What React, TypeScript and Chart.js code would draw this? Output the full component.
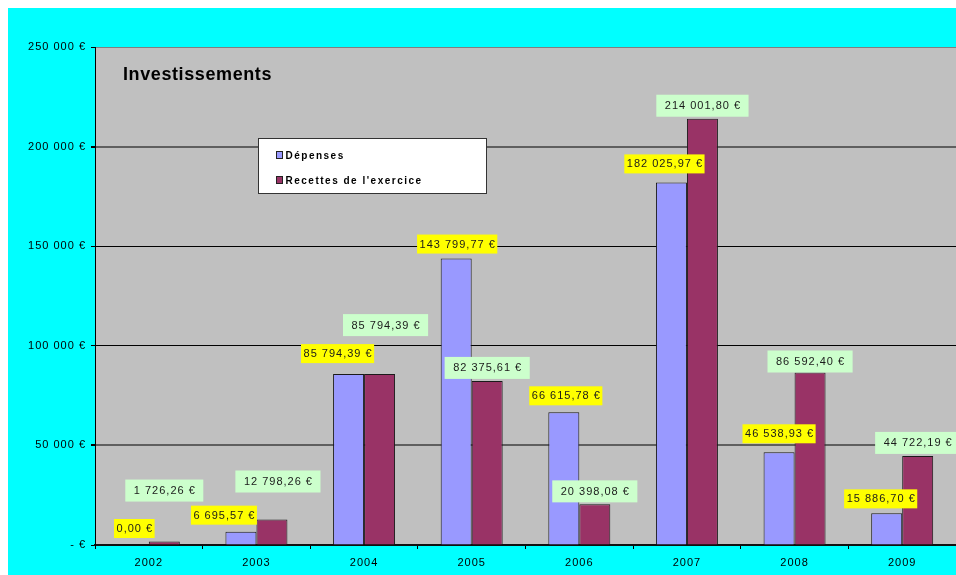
import React, { useEffect, useRef } from "react";
import { Chart, registerables } from "chart.js";

Chart.register(...registerables);

const years = ["2002", "2003", "2004", "2005", "2006", "2007", "2008", "2009"];
const depenses = [0, 6695.57, 85794.39, 143799.77, 66615.78, 182025.97, 46538.93, 15886.7];
const recettes = [1726.26, 12798.26, 85794.39, 82375.61, 20398.08, 214001.8, 86592.4, 44722.19];
const seriesNames = ["Dépenses", "Recettes de l'exercice"];
const seriesColors = ["#9999FF", "#993366"];
const labelColors = ["#FFFF00", "#CCFFCC"];
const chartTitle = "Investissements";
const yMax = 250000;
const yStep = 50000;

// label placement nudges (pixels) : [dx, extra lift]
const depLabelNudge = [[1, 0], [-17, 0], [-11, 4], [1, -2], [2, 0], [-7, 2], [0, 2], [-6, -2]];
const recLabelNudge = [[0, 38], [6, 25], [6, 36], [0, 0], [0, 0], [0, 0], [0, -2], [0, 0]];

const FONT = "'Liberation Sans', Arial, sans-serif";

function fmtMoney(v: number): string {
  const [i, d] = v.toFixed(2).split(".");
  return i.replace(/\B(?=(\d{3})+(?!\d))/g, " ") + "," + d + " €";
}
function fmtTick(v: number): string {
  if (v === 0) return "- €";
  return String(Math.round(v)).replace(/\B(?=(\d{3})+(?!\d))/g, " ") + " €";
}

const customPlugin = {
  id: "customDecor",
  beforeDraw(chart: any) {
    const { ctx, chartArea: a } = chart;
    ctx.save();
    ctx.fillStyle = "#00FFFF";
    ctx.fillRect(0, 0, chart.width, chart.height);
    ctx.fillStyle = "#C0C0C0";
    ctx.fillRect(a.left, a.top, a.right - a.left, a.bottom - a.top);
    ctx.restore();
    ctx.letterSpacing = "1px";
  },
  afterDatasetsDraw(chart: any) {
    const { ctx } = chart;
    const cfgs = [
      { values: depenses, nudge: depLabelNudge, padX: 2, h: 19, gap: 7 },
      { values: recettes, nudge: recLabelNudge, padX: 8, h: 22, gap: 2 },
    ];
    ctx.save();
    ctx.font = "11px " + FONT;
    ctx.letterSpacing = "1px";
    ctx.textAlign = "center";
    ctx.textBaseline = "middle";
    cfgs.forEach((c, d) => {
      const meta = chart.getDatasetMeta(d);
      meta.data.forEach((el: any, j: number) => {
        const text = fmtMoney(c.values[j]);
        const w = ctx.measureText(text).width;
        const bw = w + 2 * c.padX;
        const cx = el.x + c.nudge[j][0];
        const bottom = el.y - c.gap - c.nudge[j][1];
        ctx.fillStyle = labelColors[d];
        ctx.fillRect(cx - bw / 2, bottom - c.h, bw, c.h);
        ctx.fillStyle = "#1a1a1a";
        ctx.fillText(text, cx + 0.5, bottom - c.h / 2 + 0.5);
      });
    });
    ctx.restore();
  },
  afterDraw(chart: any) {
    const { ctx, chartArea: a } = chart;
    ctx.save();
    // title
    ctx.font = "bold 18px " + FONT;
    ctx.letterSpacing = "0.6px";
    ctx.fillStyle = "#000";
    ctx.textAlign = "left";
    ctx.textBaseline = "alphabetic";
    ctx.fillText(chartTitle, a.left + 28, a.top + 33);
    // legend
    const lx = a.left + 163.5;
    const ly = a.top + 91.5;
    ctx.fillStyle = "#FFFFFF";
    ctx.fillRect(lx, ly, 228, 55);
    ctx.strokeStyle = "#333";
    ctx.lineWidth = 1;
    ctx.strokeRect(lx, ly, 228, 55);
    ctx.font = "bold 10px " + FONT;
    ctx.letterSpacing = "1.5px";
    ctx.textBaseline = "middle";
    seriesNames.forEach((name, i) => {
      const cy = ly + 17 + i * 25;
      ctx.fillStyle = seriesColors[i];
      ctx.fillRect(lx + 18, cy - 4, 6, 7);
      ctx.strokeStyle = "#222";
      ctx.strokeRect(lx + 18, cy - 4, 6, 7);
      ctx.fillStyle = "#000";
      ctx.fillText(name, lx + 27, cy + 1);
    });
    ctx.restore();
  },
};

export default function App() {
  const ref = useRef<HTMLCanvasElement | null>(null);
  useEffect(() => {
    if (!ref.current) return;
    const chart = new Chart(ref.current, {
      type: "bar",
      data: {
        labels: years,
        datasets: [
          {
            label: seriesNames[0],
            data: depenses,
            backgroundColor: seriesColors[0],
            borderColor: "#1a1a1a",
            borderWidth: 1,
          },
          {
            label: seriesNames[1],
            data: recettes,
            backgroundColor: seriesColors[1],
            borderColor: "#1a1a1a",
            borderWidth: 1,
          },
        ],
      },
      options: {
        responsive: false,
        animation: false,
        devicePixelRatio: 1,
        layout: { padding: { top: 39, left: 0, right: 0, bottom: 0 } },
        datasets: { bar: { categoryPercentage: 0.576, barPercentage: 1 } },
        plugins: {
          legend: { display: false },
          tooltip: { enabled: false },
          title: { display: false },
        },
        scales: {
          x: {
            afterFit: (s: any) => {
              s.height = 30;
            },
            grid: {
              drawOnChartArea: false,
              drawTicks: true,
              tickLength: 4,
              tickColor: "#000",
              offset: true,
            },
            border: { display: true, color: "#111", width: 2 },
            ticks: {
              color: "#000",
              font: { family: FONT, size: 11 },
              padding: 7,
              maxRotation: 0,
            },
          },
          y: {
            min: 0,
            max: yMax,
            afterFit: (s: any) => {
              s.width = 87;
            },
            grid: {
              color: (c: any) => {
                const v = c.tick ? c.tick.value : 0;
                if (v === 250000) return "#7f7f7f";
                if (v === 200000 || v === 50000) return "#5f5f5f";
                return "#000";
              },
              lineWidth: (c: any) => {
                const v = c.tick ? c.tick.value : 0;
                return v === 200000 || v === 50000 ? 2 : 1;
              },
              tickColor: "#000",
              tickLength: 4,
            },
            border: { display: true, color: "#000", width: 1 },
            ticks: {
              stepSize: yStep,
              color: "#000",
              font: { family: FONT, size: 11 },
              padding: 5,
              callback: (v: any) => fmtTick(Number(v)),
            },
          },
        },
      },
      plugins: [customPlugin],
    } as any);
    return () => chart.destroy();
  }, []);
  return (
    <div style={{ position: "fixed", left: 8, top: 8, width: 948, height: 567 }}>
      <canvas ref={ref} width={948} height={567} style={{ display: "block" }} />
    </div>
  );
}
